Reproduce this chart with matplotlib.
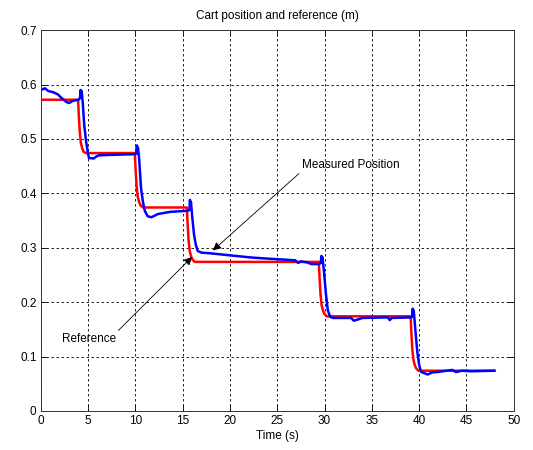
import matplotlib
matplotlib.use("Agg")
import matplotlib.pyplot as plt

# Reference cart position (m) versus time (s)
ref_t = [0.0, 3.95, 4.03, 4.13, 4.25, 4.4, 4.55, 4.8,
         9.95, 10.03, 10.13, 10.25, 10.4, 10.55, 10.8,
         15.45, 15.53, 15.63, 15.75, 15.9, 16.05, 16.3,
         29.4, 29.48, 29.58, 29.7, 29.85, 30.0, 30.25,
         39.1, 39.18, 39.28, 39.4, 39.55, 39.7, 39.95,
         48.0]
ref_x = [0.572, 0.572, 0.542, 0.512, 0.492, 0.482, 0.476, 0.474,
         0.474, 0.444, 0.414, 0.394, 0.384, 0.378, 0.374,
         0.374, 0.344, 0.314, 0.294, 0.284, 0.278, 0.274,
         0.274, 0.244, 0.214, 0.194, 0.184, 0.178, 0.174,
         0.174, 0.144, 0.114, 0.094, 0.084, 0.078, 0.074,
         0.074]

# Measured cart position (m) versus time (s)
meas_t = [0.0, 0.45, 0.8, 1.3, 1.8, 2.15, 2.7, 3.0, 3.4, 4.0, 4.15, 4.22, 4.27, 4.33,
          4.45, 4.6, 4.8, 4.95, 5.1, 5.6, 5.9, 6.2, 8.0, 9.9, 10.1, 10.17, 10.22, 10.28,
          10.4, 10.6, 10.8, 11.0, 11.3, 11.7, 12.4, 13.7, 15.6, 15.72, 15.78, 15.83, 15.88,
          16.0, 16.2, 16.4, 16.6, 17.0, 17.8, 20.6, 22.3, 24.0, 26.9, 27.2, 27.5, 28.2,
          28.6, 29.4, 29.6, 29.67, 29.72, 29.78, 29.95, 30.15, 30.35, 30.6, 30.9, 32.8,
          33.1, 33.5, 34.0, 36.7, 36.9, 37.1, 39.2, 39.28, 39.33, 39.38, 39.43, 39.6,
          39.8, 40.0, 40.2, 40.9, 41.4, 41.9, 43.5, 43.9, 44.5, 45.5, 47.9]
meas_x = [0.590, 0.593, 0.588, 0.586, 0.582, 0.576, 0.568, 0.566, 0.570, 0.572, 0.575, 0.590, 0.576, 0.588,
          0.565, 0.525, 0.495, 0.478, 0.465, 0.464, 0.468, 0.470, 0.471, 0.472, 0.473, 0.488, 0.474, 0.484,
          0.465, 0.410, 0.385, 0.368, 0.358, 0.356, 0.362, 0.366, 0.368, 0.370, 0.388, 0.372, 0.384,
          0.360, 0.325, 0.305, 0.294, 0.291, 0.290, 0.285, 0.282, 0.280, 0.277, 0.272, 0.275, 0.273,
          0.270, 0.270, 0.272, 0.285, 0.272, 0.283, 0.255, 0.215, 0.185, 0.173, 0.171, 0.171,
          0.166, 0.168, 0.171, 0.172, 0.167, 0.171, 0.172, 0.175, 0.188, 0.174, 0.185, 0.150,
          0.110, 0.085, 0.072, 0.067, 0.071, 0.0715, 0.0755, 0.0715, 0.074, 0.073, 0.074]

x_ticks = [0, 5, 10, 15, 20, 25, 30, 35, 40, 45, 50]
y_ticks = [0, 0.1, 0.2, 0.3, 0.4, 0.5, 0.6, 0.7]
y_labels = ["0", "0.1", "0.2", "0.3", "0.4", "0.5", "0.6", "0.7"]

plt.rcParams["font.family"] = ["Liberation Sans", "DejaVu Sans"]
plt.rcParams["font.size"] = 8.5

fig = plt.figure(figsize=(5.33, 4.5), dpi=100)
ax = fig.add_axes([0.0764, 0.0867, 0.8874, 0.8464])

ax.plot(ref_t, ref_x, color="#ff0000", lw=1.8, solid_joinstyle="round")
ax.plot(meas_t, meas_x, color="#0000ff", lw=1.8, solid_joinstyle="round")

ax.set_xlim(0, 50)
ax.set_ylim(0, 0.7)
ax.set_xticks(x_ticks)
ax.set_xticklabels([str(v) for v in x_ticks])
ax.set_yticks(y_ticks)
ax.set_yticklabels(y_labels)
ax.tick_params(direction="in", length=4, width=0.6, top=True, right=True,
               colors="black", labelsize=8.5, pad=3)
ax.grid(True, color="black", linestyle=(0, (3, 3)), linewidth=0.6)
for s in ax.spines.values():
    s.set_linewidth(0.7)
    s.set_color("#333333")

ax.set_title("Cart position and reference (m)", fontsize=8.5, pad=8)
ax.set_xlabel("Time (s)", fontsize=8.5, labelpad=2)

arrow = dict(arrowstyle="-|>", color="black", lw=0.6, mutation_scale=12,
             shrinkA=0, shrinkB=0)
ax.annotate("Measured Position", xy=(18.2, 0.295), xytext=(27.6, 0.452),
            ha="left", va="center", fontsize=8.5,
            arrowprops=dict(arrow, relpos=(0.0, 0.0)))
ax.annotate("Reference", xy=(16.0, 0.283), xytext=(2.2, 0.132),
            ha="left", va="center", fontsize=8.5,
            arrowprops=dict(arrow, relpos=(1.0, 1.0)))

fig.savefig("out.png", dpi=100)
